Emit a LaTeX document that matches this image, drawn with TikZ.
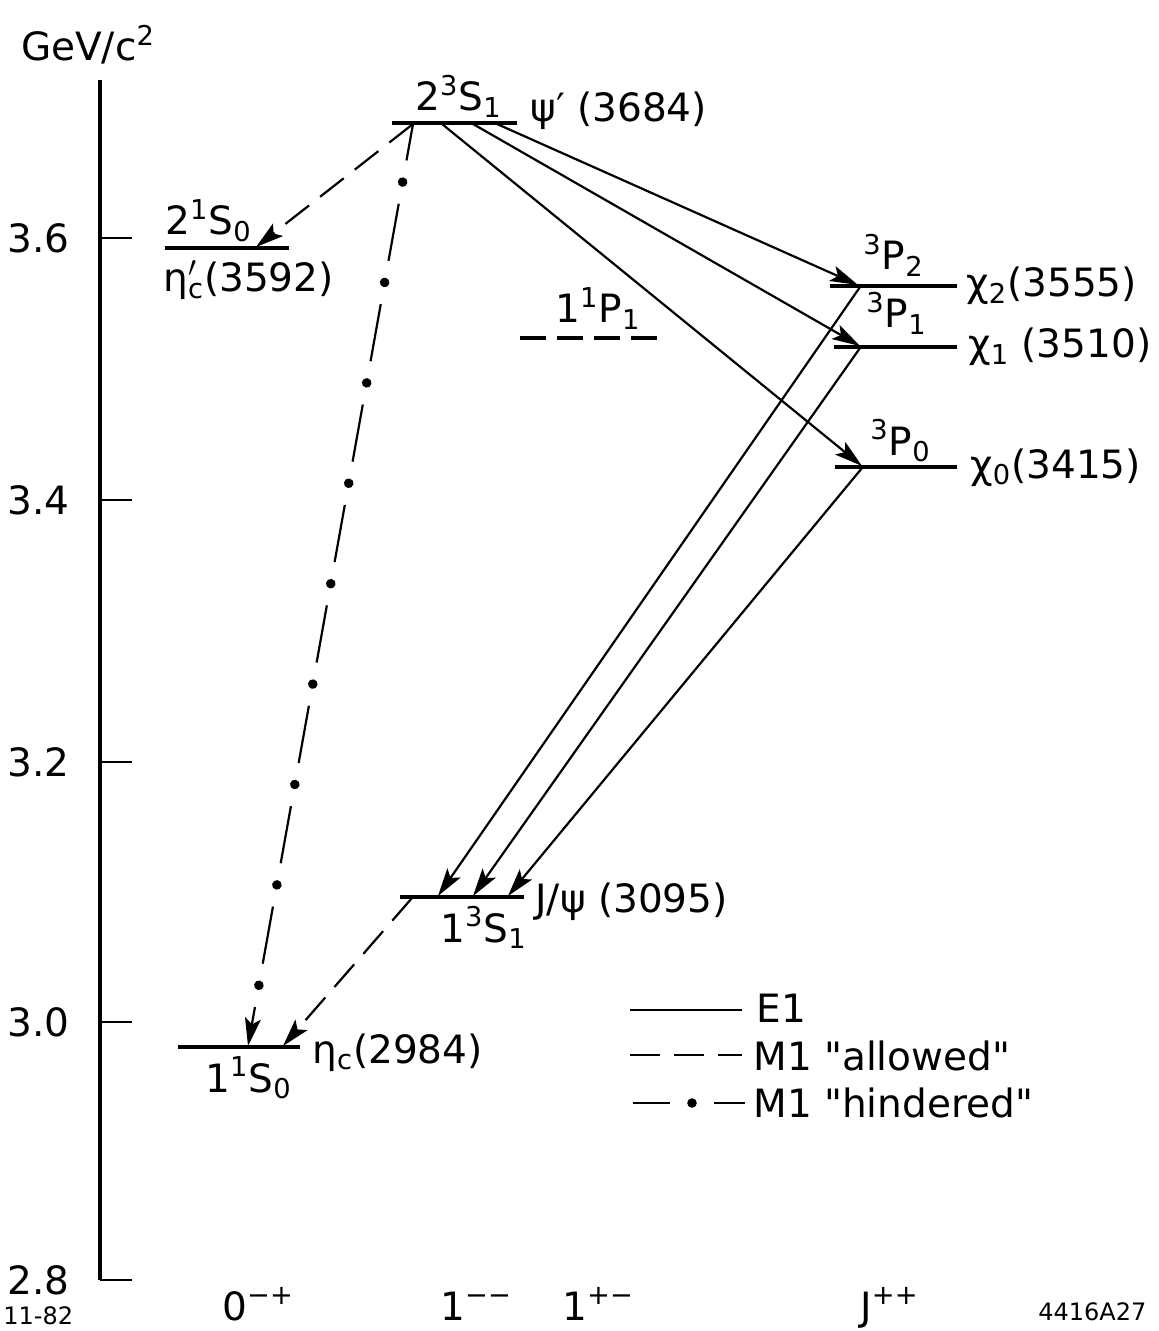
\documentclass[tikz,border=0pt]{standalone}
\usepackage{fontspec}
\setmainfont{DejaVu Sans}
\usetikzlibrary{arrows.meta, decorations.markings}
\tikzset{
  axis/.style={line width=1.6pt},
  tick/.style={line width=1pt},
  level/.style={line width=2pt},
  trans/.style={line width=1.1pt, -{Stealth[length=14pt, width=8pt, inset=3pt]}},
  allowed/.style={trans, dash pattern=on 15pt off 7pt},
  hindered/.style={trans, dash pattern=on 29pt off 22pt, dash phase=10.5pt,
    postaction={draw=none, decorate, decoration={markings,
      mark=between positions 29.5pt and -20pt step 51pt with {\fill circle (2.4pt);}}}},
  lbl/.style={font=\fontsize{19.5}{23}\selectfont, inner sep=0pt},
  smalllbl/.style={font=\fontsize{12}{14}\selectfont, inner sep=0pt},
}

\begin{document}
\begin{tikzpicture}[x=0.5pt, y=-0.5pt]
  \useasboundingbox (0,0) rectangle (1159,1331);

  % Energy axis
  \coordinate (axtop) at (100,80);
  \coordinate (axbot) at (100,1280);
  \draw[axis] (axtop) -- (axbot);
  \foreach \v/\y [count=\i] in {3.6/238, 3.4/500, 3.2/762, 3.0/1022, 2.8/1280} {
    \draw[tick] (100,\y) -- (132,\y);
    \node[lbl, anchor=east] (tick\i) at (70,\y) {\v};
  }
  \node[lbl] (unit) at (88,45) {GeV/c\textsuperscript{2}};

  % Levels
  \coordinate (psiPL) at (392,123);  \coordinate (psiPR) at (517,123);
  \coordinate (etaPL) at (165,248);  \coordinate (etaPR) at (289,248);
  \coordinate (hcL)   at (520,338);  \coordinate (hcR)   at (657,338);
  \coordinate (chiTL) at (830,286);  \coordinate (chiTR) at (957,286);
  \coordinate (chiOL) at (834,347);  \coordinate (chiOR) at (957,347);
  \coordinate (chiZL) at (835,467);  \coordinate (chiZR) at (957,467);
  \coordinate (jpsiL) at (400,897);  \coordinate (jpsiR) at (524,897);
  \coordinate (etaL)  at (178,1047); \coordinate (etaR)  at (300,1047);
  \draw[level] (psiPL) -- (psiPR);
  \draw[level] (etaPL) -- (etaPR);
  \draw[level, dash pattern=on 13pt off 5.5pt] (hcL) -- (hcR);
  \draw[level] (chiTL) -- (chiTR);
  \draw[level] (chiOL) -- (chiOR);
  \draw[level] (chiZL) -- (chiZR);
  \draw[level] (jpsiL) -- (jpsiR);
  \draw[level] (etaL) -- (etaR);

  % Level labels
  \node[lbl, anchor=base west] (psiPst) at (415,111) {2\textsuperscript{3}S\textsubscript{1}};
  \node[lbl, anchor=base west] (psiPnm) at (530,122) {ψ′ (3684)};
  \node[lbl, anchor=base west] (etaPst) at (165,235) {2\textsuperscript{1}S\textsubscript{0}};
  \node[lbl, anchor=base west] (etaPnm) at (163,292) {η\rlap{$^{\prime}$}\textsubscript{c}(3592)};
  \node[lbl, anchor=base west] (hcst)   at (555,323) {1\textsuperscript{1}P\textsubscript{1}};
  \node[lbl, anchor=base west] (chiTst) at (863,270) {\textsuperscript{3}P\textsubscript{2}};
  \node[lbl, anchor=base west] (chiTnm) at (966,297) {χ\textsubscript{2}(3555)};
  \node[lbl, anchor=base west] (chiOst) at (866,328) {\textsuperscript{3}P\textsubscript{1}};
  \node[lbl, anchor=base west] (chiOnm) at (968,358) {χ\textsubscript{1} (3510)};
  \node[lbl, anchor=base west] (chiZst) at (870,455) {\textsuperscript{3}P\textsubscript{0}};
  \node[lbl, anchor=base west] (chiZnm) at (970,478) {χ\textsubscript{0}(3415)};
  \node[lbl, anchor=base west] (jpsist) at (440,942) {1\textsuperscript{3}S\textsubscript{1}};
  \node[lbl, anchor=base west] (jpsinm) at (535,912) {J/ψ (3095)};
  \node[lbl, anchor=base west] (etast)  at (205,1092) {1\textsuperscript{1}S\textsubscript{0}};
  \node[lbl, anchor=base west] (etanm)  at (312,1063) {η\textsubscript{c}(2984)};

  % Transition end points
  \coordinate (psiPa) at (413,124);
  \coordinate (psiPb) at (442,124);
  \coordinate (psiPc) at (473,124);
  \coordinate (psiPd) at (497,124);
  \coordinate (etaPin) at (256,247);
  \coordinate (chiTin) at (858,285);
  \coordinate (chiOin) at (860,346);
  \coordinate (chiZin) at (862,466);
  \coordinate (chiTout) at (860,287);
  \coordinate (chiOout) at (860,348);
  \coordinate (chiZout) at (862,468);
  \coordinate (jpsiA) at (438,896);
  \coordinate (jpsiB) at (473,896);
  \coordinate (jpsiC) at (508,896);
  \coordinate (jpsiout) at (412,898);
  \coordinate (etaA) at (248,1046);
  \coordinate (etaB) at (283,1046);

  % E1 transitions
  \draw[trans] (psiPd) -- (chiTin);
  \draw[trans] (psiPc) -- (chiOin);
  \draw[trans] (psiPb) -- (chiZin);
  \draw[trans] (chiTout) -- (jpsiA);
  \draw[trans] (chiOout) -- (jpsiB);
  \draw[trans] (chiZout) -- (jpsiC);

  % M1 transitions
  \draw[allowed] (psiPa) -- (etaPin);
  \draw[allowed] (jpsiout) -- (etaB);
  \draw[hindered] (psiPa) -- (etaA);

  % Legend
  \coordinate (legEa) at (630,1010);  \coordinate (legEb) at (742,1010);
  \coordinate (legAa) at (630,1055);  \coordinate (legAb) at (742,1055);
  \coordinate (legHa) at (633,1103);  \coordinate (legHb) at (745,1103);
  \draw[trans, -] (legEa) -- (legEb);
  \draw[allowed, -] (legAa) -- (legAb);
  \draw[hindered, -] (legHa) -- (legHb);
  \node[lbl, anchor=base west] (legE) at (756,1022) {E1};
  \node[lbl, anchor=base west] (legA) at (753,1070) {M1 \textquotedbl allowed\textquotedbl};
  \node[lbl, anchor=base west] (legH) at (753,1117) {M1 \textquotedbl hindered\textquotedbl};

  % Quantum numbers
  \node[lbl, anchor=base west] (jpcA) at (222,1320) {0\textsuperscript{−+}};
  \node[lbl, anchor=base west] (jpcB) at (440,1320) {1\textsuperscript{−−}};
  \node[lbl, anchor=base west] (jpcC) at (562,1320) {1\textsuperscript{+−}};
  \node[lbl, anchor=base west] (jpcD) at (860,1320) {J\textsuperscript{++}};
  \node[smalllbl, anchor=base west] (date) at (3,1324) {11-82};
  \node[smalllbl, anchor=base west] (fig) at (1038,1320) {4416A27};
\end{tikzpicture}
\end{document}
